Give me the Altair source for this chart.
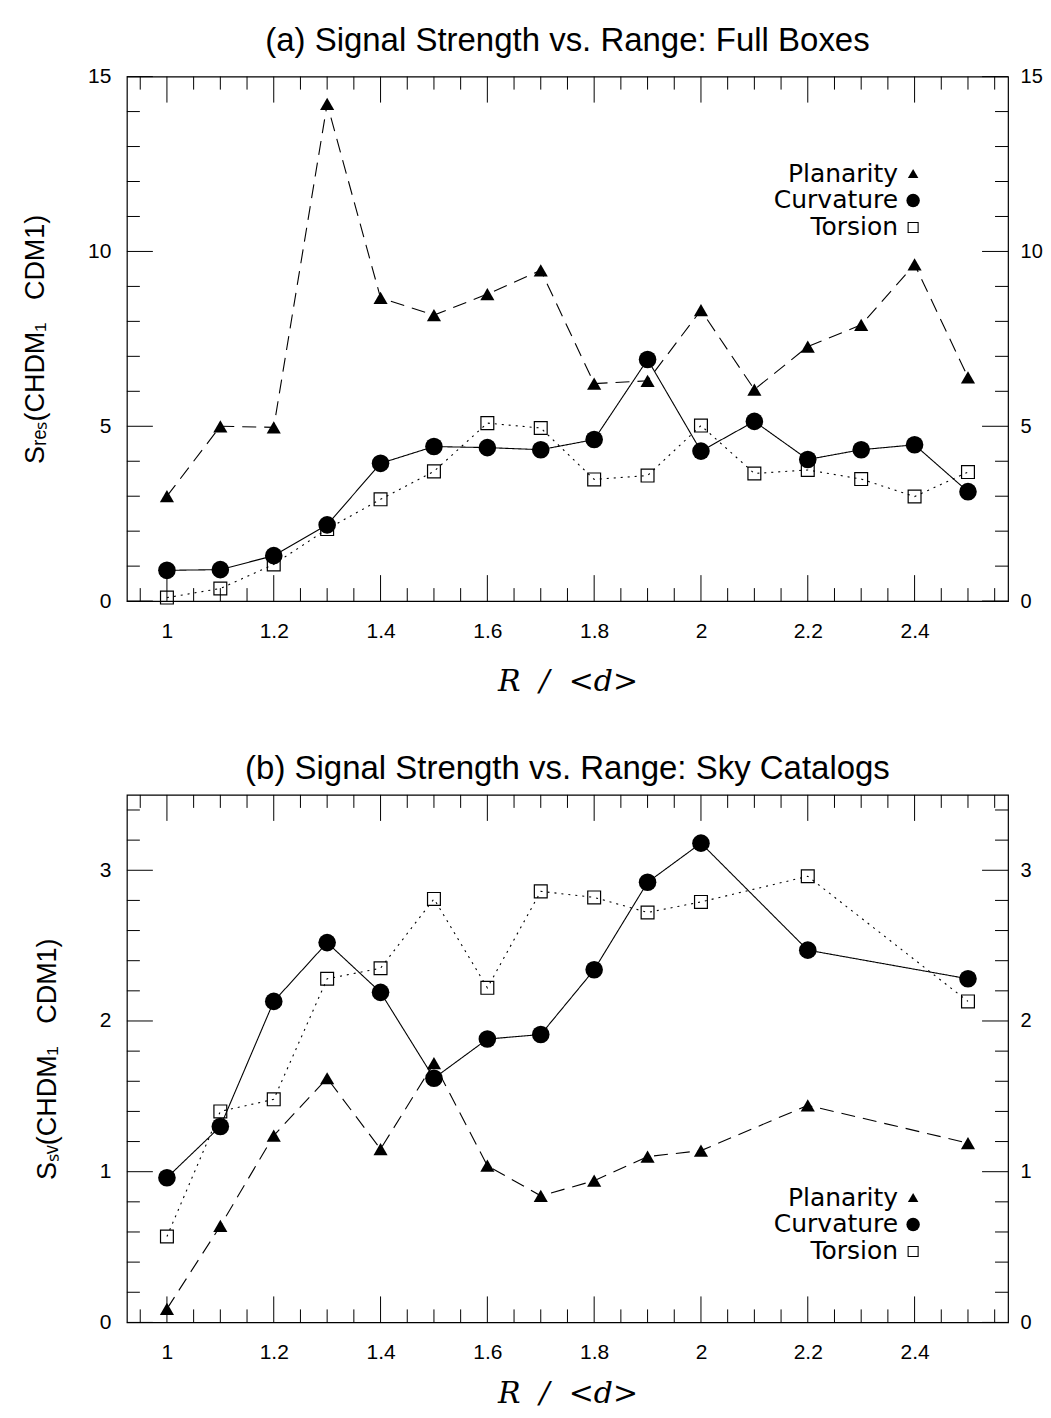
import altair as alt
import pandas as pd

# ---------------- data ----------------
R_A = [1.0, 1.1, 1.2, 1.3, 1.4, 1.5, 1.6, 1.7, 1.8, 1.9, 2.0, 2.1, 2.2, 2.3, 2.4, 2.5]
PLAN_A = [3.0, 5.0, 4.97, 14.22, 8.67, 8.18, 8.78, 9.46, 6.22, 6.3, 8.32, 6.05, 7.28, 7.9, 9.63, 6.4]
CURV_A = [0.88, 0.9, 1.3, 2.18, 3.94, 4.42, 4.39, 4.33, 4.62, 6.91, 4.29, 5.14, 4.05, 4.33, 4.47, 3.13]
TORS_A = [0.1, 0.36, 1.05, 2.06, 2.91, 3.71, 5.09, 4.95, 3.48, 3.59, 5.02, 3.65, 3.75, 3.49, 2.99, 3.69]

R_B = [1.0, 1.1, 1.2, 1.3, 1.4, 1.5, 1.6, 1.7, 1.8, 1.9, 2.0, 2.2, 2.5]
PLAN_B = [0.09, 0.64, 1.24, 1.62, 1.15, 1.72, 1.04, 0.84, 0.94, 1.1, 1.14, 1.44, 1.19]
CURV_B = [0.96, 1.3, 2.13, 2.52, 2.19, 1.62, 1.88, 1.91, 2.34, 2.92, 3.18, 2.47, 2.28]
TORS_B = [0.57, 1.4, 1.48, 2.28, 2.35, 2.81, 2.22, 2.86, 2.82, 2.72, 2.79, 2.96, 2.13]

SERIES = ["Planarity", "Curvature", "Torsion"]

X_DOMAIN = [0.925, 2.575]
X_LABELS = [1.0, 1.2, 1.4, 1.6, 1.8, 2.0, 2.2, 2.4]
X_MAJOR = [1.0, 1.2, 1.4, 1.6, 1.8, 2.0, 2.2, 2.4]
X_MINOR = [0.95, 1.05, 1.1, 1.15, 1.25, 1.3, 1.35, 1.45, 1.5, 1.55, 1.65, 1.7, 1.75,
           1.85, 1.9, 1.95, 2.05, 2.1, 2.15, 2.25, 2.3, 2.35, 2.45, 2.5, 2.55]

YA_DOMAIN = [0, 15]
YA_LABELS = [0, 5, 10, 15]
YA_MINOR = [1, 2, 3, 4, 6, 7, 8, 9, 11, 12, 13, 14]

YB_DOMAIN = [0, 3.5]
YB_LABELS = [0, 1, 2, 3]
YB_MINOR = [0.2, 0.4, 0.6, 0.8, 1.2, 1.4, 1.6, 1.8, 2.2, 2.4, 2.6, 2.8, 3.2, 3.4]

TITLE_A = "(a) Signal Strength vs. Range: Full Boxes"
TITLE_B = "(b) Signal Strength vs. Range: Sky Catalogs"
YTITLE_A = "S\u1d63\u2091\u209b(CHDM\u2081\u00a0\u00a0 CDM1)"
YTITLE_B = "S\u209b\u1d65(CHDM\u2081\u00a0\u00a0 CDM1)"
XTITLE = "R\u00a0\u00a0/\u00a0\u00a0<d>"

# ---------------- styles ----------------
W = 882
HA = 525
HB = 528
MAJ = 26
MIN = 13
FONT = "Liberation Sans"

STYLE = {
    "Planarity": dict(dash=[14, 8], shape="triangle-up", filled=True, size=200, lsize=110),
    "Curvature": dict(dash=[1, 0], shape="circle", filled=True, size=310, lsize=180),
    "Torsion": dict(dash=[2, 5], shape="square", filled=False, size=165, lsize=100),
}


def panel(r, plan, curv, tors, ydom, ylabels, yminor, H, title, ytitle, legend_y,
          xtitle_pad):
    df = pd.DataFrame({
        "R": r * 3,
        "S": plan + curv + tors,
        "series": ["Planarity"] * len(r) + ["Curvature"] * len(r) + ["Torsion"] * len(r),
    })
    xscale = alt.Scale(domain=X_DOMAIN, nice=False, zero=False)
    yscale = alt.Scale(domain=ydom, nice=False, zero=False)
    xaxis = alt.Axis(values=X_LABELS, format="~g", ticks=False, domain=False, grid=False,
                     labelFont=FONT, labelFontSize=21, labelColor="black", labelPadding=19,
                     title=XTITLE, titleFont="DejaVu Serif", titleFontStyle="italic",
                     titleFontWeight="normal", titleFontSize=30, titleColor="black",
                     titlePadding=xtitle_pad)
    X = alt.X("R:Q", scale=xscale, axis=xaxis)
    Xt = alt.X("t:Q", scale=xscale, axis=xaxis)

    y_left_axis = alt.Axis(values=ylabels, format="~g", ticks=False, domain=False, grid=False,
                           orient="left", labelFont=FONT, labelFontSize=21,
                           labelColor="black", labelPadding=16,
                           title=ytitle, titleFont=FONT, titleFontSize=27,
                           titleFontWeight="normal", titleColor="black", titlePadding=38)
    y_right_axis = alt.Axis(values=ylabels, format="~g", ticks=False, domain=False, grid=False,
                            orient="right", labelFont=FONT, labelFontSize=20,
                            labelColor="black", labelPadding=12, title=None)

    layers = []
    base = alt.Chart(df)
    for i, s in enumerate(SERIES):
        st = STYLE[s]
        yaxis = y_left_axis if i == 0 else (y_right_axis if i == 1 else None)
        layers.append(
            base.transform_filter(alt.datum.series == s)
            .mark_line(color="black", strokeWidth=1.1, strokeDash=st["dash"])
            .encode(x=X, y=alt.Y("S:Q", scale=yscale, axis=yaxis))
        )
    for s in SERIES:
        st = STYLE[s]
        if st["filled"]:
            mk = base.transform_filter(alt.datum.series == s).mark_point(
                shape=st["shape"], filled=True, fill="black", strokeWidth=0,
                size=st["size"], opacity=1)
        else:
            mk = base.transform_filter(alt.datum.series == s).mark_point(
                shape=st["shape"], filled=False, stroke="black", strokeWidth=1.2,
                size=st["size"], opacity=1)
        layers.append(mk.encode(x=X, y=alt.Y("S:Q", scale=yscale, axis=None)))

    def xticks(vals, L):
        d = pd.DataFrame({"t": vals})
        bot = alt.Chart(d).mark_rule(color="black", strokeWidth=1).encode(
            x=Xt, y=alt.value(H), y2=alt.value(H - L))
        top = alt.Chart(d).mark_rule(color="black", strokeWidth=1).encode(
            x=Xt, y=alt.value(0), y2=alt.value(L))
        return [bot, top]

    def yticks(vals, L):
        d = pd.DataFrame({"t": vals})
        Y = alt.Y("t:Q", scale=yscale, axis=None)
        lft = alt.Chart(d).mark_rule(color="black", strokeWidth=1).encode(
            y=Y, x=alt.value(0), x2=alt.value(L))
        rgt = alt.Chart(d).mark_rule(color="black", strokeWidth=1).encode(
            y=Y, x=alt.value(W), x2=alt.value(W - L))
        return [lft, rgt]

    layers += xticks(X_MAJOR, MAJ) + xticks(X_MINOR, MIN)
    layers += yticks(ylabels, MAJ) + yticks(yminor, MIN)

    one = pd.DataFrame({"k": [0]})
    for s, py in zip(SERIES, legend_y):
        st = STYLE[s]
        layers.append(
            alt.Chart(one).mark_text(align="right", baseline="middle", font="DejaVu Sans",
                                     fontSize=25, color="black")
            .encode(x=alt.value(772), y=alt.value(py), text=alt.value(s))
        )
        if st["filled"]:
            layers.append(
                alt.Chart(one).mark_point(shape=st["shape"], filled=True, fill="black",
                                          strokeWidth=0, size=st["lsize"], opacity=1)
                .encode(x=alt.value(787), y=alt.value(py))
            )
        else:
            layers.append(
                alt.Chart(one).mark_point(shape=st["shape"], filled=False, stroke="black",
                                          strokeWidth=1.1, size=st["lsize"], opacity=1)
                .encode(x=alt.value(787), y=alt.value(py))
            )

    return alt.layer(*layers).resolve_axis(y="independent").properties(
        width=W, height=H,
        title=alt.TitleParams(title, font=FONT, fontSize=33, fontWeight="normal",
                              color="black", anchor="middle", offset=8),
    )


pa = panel(R_A, PLAN_A, CURV_A, TORS_A, YA_DOMAIN, YA_LABELS, YA_MINOR, HA,
           TITLE_A, YTITLE_A, [97, 124, 151], 25)
pb = panel(R_B, PLAN_B, CURV_B, TORS_B, YB_DOMAIN, YB_LABELS, YB_MINOR, HB,
           TITLE_B, YTITLE_B, [403, 430, 457], 16)

chart = alt.vconcat(pa, pb, spacing=55).configure_view(
    stroke="black", strokeWidth=1.2
).properties(
    padding={"left": 13, "top": 15, "right": 0, "bottom": 0},
    background="white",
)

chart.save("out.html", embed_options={"renderer": "svg", "actions": False})
